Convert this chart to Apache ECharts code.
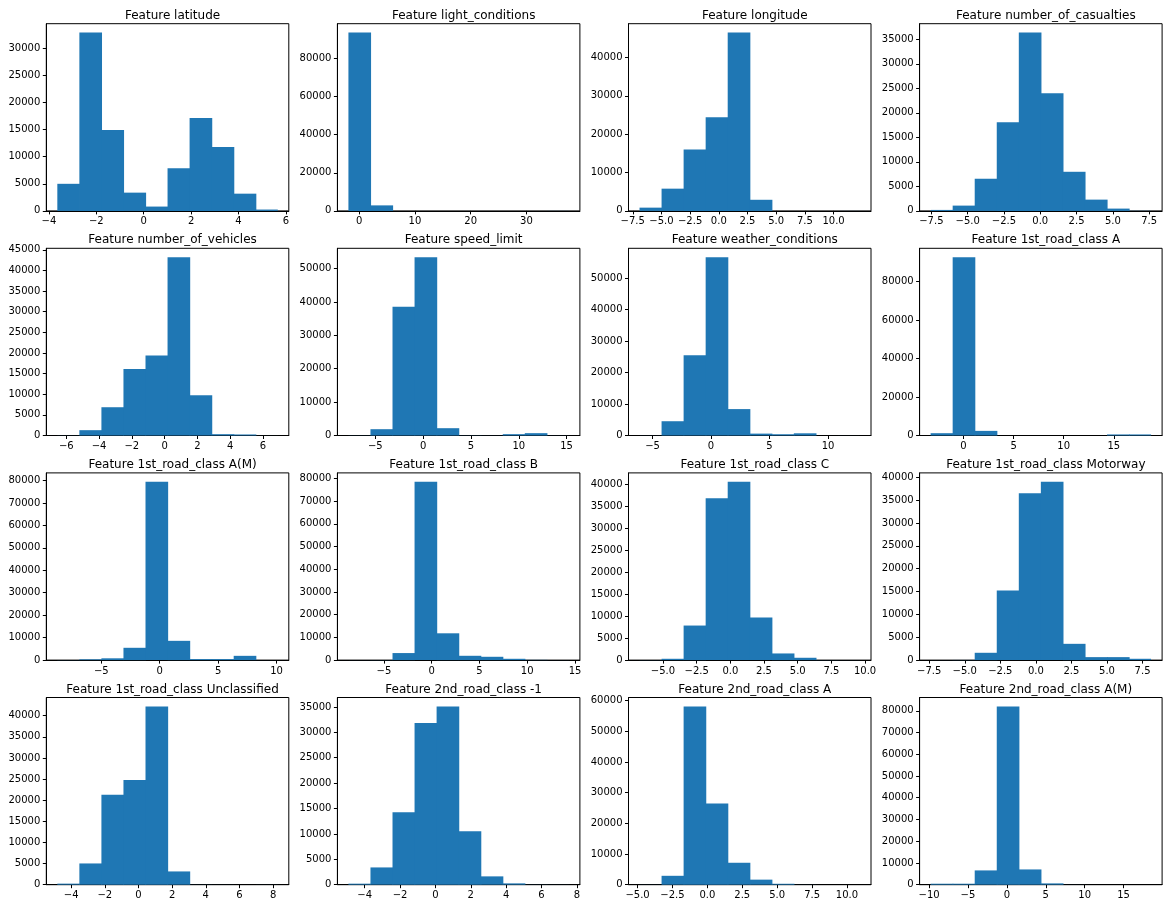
<!DOCTYPE html>
<html>
<head>
<meta charset="utf-8">
<script src="https://cdn.jsdelivr.net/npm/echarts@6/dist/echarts.min.js"></script>
<style>
html,body{margin:0;padding:0;background:#ffffff;}
#chart{width:1168px;height:909px;}
</style>
</head>
<body>
<div id="chart"></div>
<script>
// ---- Data ----
const featureNames = [
  'latitude', 'light_conditions', 'longitude', 'number_of_casualties',
  'number_of_vehicles', 'speed_limit', 'weather_conditions', '1st_road_class A',
  '1st_road_class A(M)', '1st_road_class B', '1st_road_class C', '1st_road_class Motorway',
  '1st_road_class Unclassified', '2nd_road_class -1', '2nd_road_class A', '2nd_road_class A(M)'
];

// lowest and highest value of each feature (histogram range, 10 equal bins)
const rangeLow  = [-3.645, -1.91, -6.91, -7.55, -6.55, -7.81, -6.11, -3.27, -8.77, -8.72, -6.74, -7.40, -4.82, -4.92, -4.86, -9.80];
const rangeHigh = [ 5.66, 37.60, 12.30,  7.63,  6.91, 15.24, 12.73, 18.71, 10.11, 14.36,  9.62,  8.10,  8.28,  7.55, 10.93, 18.53];

// counts per bin
const cLatitude      = [5000, 32900, 14950, 3370, 800, 7850, 17150, 11800, 3180, 250];
const cLight         = [93600, 2900, 0, 0, 0, 0, 0, 0, 0, 30];
const cLongitude     = [850, 5800, 16000, 24400, 46500, 2900, 0, 0, 0, 10];
const cCasualties    = [200, 1080, 6560, 18100, 36370, 24000, 7980, 2300, 470, 30];
const cVehicles      = [20, 1290, 6850, 16100, 19400, 43200, 9750, 320, 250, 10];
const cSpeed         = [30, 1890, 38600, 53400, 2190, 40, 20, 400, 700, 20];
const cWeather       = [20, 4540, 25500, 56700, 8400, 600, 400, 700, 0, 10];
const cRoad1A        = [1200, 92600, 2400, 0, 0, 0, 0, 0, 550, 550];
const cRoad1AM       = [50, 350, 800, 5480, 79400, 8580, 450, 450, 1900, 20];
const cRoad1B        = [20, 50, 3100, 78500, 11800, 1900, 1460, 580, 100, 20];
const cRoad1C        = [20, 300, 7850, 36770, 40500, 9660, 1510, 530, 20, 10];
const cRoad1Motorway = [10, 30, 1600, 15200, 36500, 39000, 3560, 650, 650, 290];
const cRoad1Uncl     = [250, 5030, 21300, 24800, 42200, 3140, 20, 10, 0, 10];
const cRoad2Minus1   = [200, 3400, 14260, 31850, 35100, 10530, 1640, 260, 20, 10];
const cRoad2A        = [20, 2900, 58100, 26500, 7150, 1650, 300, 20, 0, 10];
const cRoad2AM       = [450, 450, 6570, 82000, 7020, 600, 20, 0, 0, 10];

const counts = [cLatitude, cLight, cLongitude, cCasualties, cVehicles, cSpeed, cWeather, cRoad1A,
                cRoad1AM, cRoad1B, cRoad1C, cRoad1Motorway, cRoad1Uncl, cRoad2Minus1, cRoad2A, cRoad2AM];

// x tick labels
const xTicks = [
  [-4, -2, 0, 2, 4, 6],
  [0, 10, 20, 30],
  [-7.5, -5, -2.5, 0, 2.5, 5, 7.5, 10],
  [-7.5, -5, -2.5, 0, 2.5, 5, 7.5],
  [-6, -4, -2, 0, 2, 4, 6],
  [-5, 0, 5, 10, 15],
  [-5, 0, 5, 10],
  [0, 5, 10, 15],
  [-5, 0, 5, 10],
  [-5, 0, 5, 10, 15],
  [-5, -2.5, 0, 2.5, 5, 7.5, 10],
  [-7.5, -5, -2.5, 0, 2.5, 5, 7.5],
  [-4, -2, 0, 2, 4, 6, 8],
  [-4, -2, 0, 2, 4, 6, 8],
  [-5, -2.5, 0, 2.5, 5, 7.5, 10],
  [-10, -5, 0, 5, 10, 15]
];
// y tick step
const yTickStep = [5000, 20000, 10000, 5000, 5000, 10000, 10000, 20000, 10000, 10000, 5000, 5000, 5000, 5000, 10000, 10000];

// ---- Chart ----
const FONT = 'DejaVu Sans';
const BAR = '#1f77b4';
const grids = [], xAxes = [], yAxes = [], series = [], titles = [];

for (let i = 0; i < featureNames.length; i++) {
  const r = Math.floor(i / 4), c = i % 4;
  const left = 46.3 + c * 291.1, top = 23.7 + r * 224.6, w = 242.5, h = 187.2;
  grids.push({left: left, top: top, width: w, height: h, show: true,
              borderColor: '#000', borderWidth: 1, backgroundColor: 'transparent', containLabel: false});

  const lo = rangeLow[i], hi = rangeHigh[i], span = hi - lo;
  const ticks = xTicks[i];
  const dec = ticks.some(t => !Number.isInteger(t));
  xAxes.push({
    type: 'value', gridIndex: i, min: lo - 0.05 * span, max: hi + 0.05 * span,
    splitLine: {show: false},
    axisLine: {show: true, onZero: false, lineStyle: {color: '#000', width: 1}},
    axisTick: {show: true, length: 3.5, lineStyle: {color: '#000', width: 1}, customValues: ticks},
    axisLabel: {show: true, margin: 6, color: '#000', fontFamily: FONT, fontSize: 10,
      customValues: ticks,
      formatter: v => (dec ? Number(v).toFixed(1) : String(Math.round(v * 1000) / 1000)).replace('-', '\u2212')}
  });

  const cts = counts[i];
  const maxC = Math.max.apply(null, cts);
  const yMax = maxC * 1.05;
  const step = yTickStep[i];
  const yt = [];
  for (let v = 0; v <= yMax; v += step) yt.push(v);
  yAxes.push({
    type: 'value', gridIndex: i, min: 0, max: yMax,
    splitLine: {show: false},
    axisLine: {show: true, onZero: false, lineStyle: {color: '#000', width: 1}},
    axisTick: {show: true, length: 3.5, lineStyle: {color: '#000', width: 1}, customValues: yt},
    axisLabel: {show: true, margin: 6, color: '#000', fontFamily: FONT, fontSize: 10,
      customValues: yt, formatter: v => String(v)}
  });

  const data = [];
  for (let b = 0; b < cts.length; b++) {
    data.push([lo + span * b / cts.length, lo + span * (b + 1) / cts.length, cts[b]]);
  }
  series.push({
    type: 'custom', xAxisIndex: i, yAxisIndex: i, data: data,
    encode: {x: [0, 1], y: 2},
    renderItem: function (params, api) {
      if (!(api.value(2) > 0)) return null;
      const p0 = api.coord([api.value(0), api.value(2)]);
      const p1 = api.coord([api.value(1), 0]);
      const last = params.dataIndex === cts.length - 1;
      return {type: 'rect',
              shape: {x: p0[0], y: p0[1], width: p1[0] - p0[0] + (last ? 0 : 0.6), height: p1[1] - p0[1]},
              style: {fill: BAR}};
    }
  });

  titles.push({
    text: 'Feature ' + featureNames[i], left: left + w / 2, top: top - 19, textAlign: 'center',
    textStyle: {fontFamily: FONT, fontSize: 12, fontWeight: 'normal', color: '#000'}
  });
}

const chart = echarts.init(document.getElementById('chart'), null, {renderer: 'canvas'});
chart.setOption({
  animation: false,
  backgroundColor: '#ffffff',
  title: titles,
  grid: grids,
  xAxis: xAxes,
  yAxis: yAxes,
  series: series
});
</script>
</body>
</html>
